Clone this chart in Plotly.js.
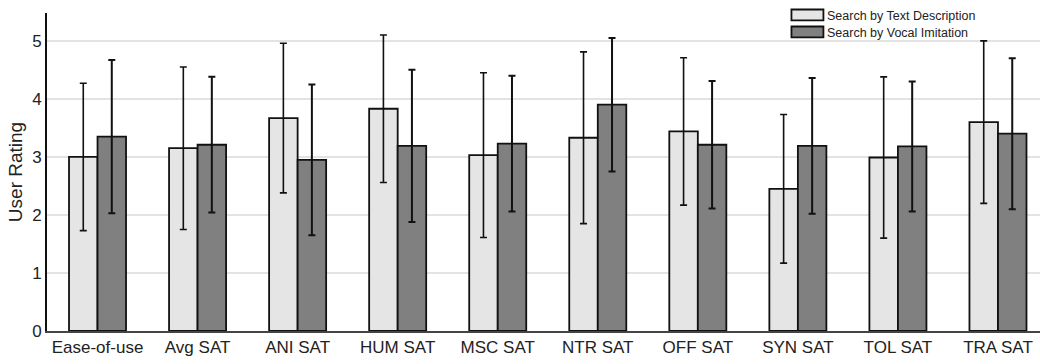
<!DOCTYPE html>
<html>
<head>
<meta charset="utf-8">
<script src="https://cdn.plot.ly/plotly-3.0.1.min.js"></script>
<style>html,body{margin:0;padding:0;background:#fff}#chart{width:1040px;height:364px}</style>
</head>
<body>
<div id="chart"></div>
<script>
var categories = ["Ease-of-use","Avg SAT","ANI SAT","HUM SAT","MSC SAT","NTR SAT","OFF SAT","SYN SAT","TOL SAT","TRA SAT"];
var textMean = [3.00, 3.15, 3.67, 3.83, 3.03, 3.33, 3.44, 2.45, 2.99, 3.60];
var textErr  = [1.27, 1.40, 1.29, 1.27, 1.42, 1.48, 1.27, 1.28, 1.39, 1.40];
var vocalMean = [3.35, 3.21, 2.95, 3.19, 3.23, 3.90, 3.21, 3.19, 3.18, 3.40];
var vocalErr  = [1.32, 1.17, 1.30, 1.31, 1.17, 1.15, 1.10, 1.17, 1.12, 1.30];
var seriesNames = ["Search by Text Description","Search by Vocal Imitation"];
var seriesColors = ["#e5e5e5","#808080"];

var font = "Liberation Sans, Arial, Helvetica, sans-serif";
var traces = [
  {type:"bar", name:seriesNames[0], x:categories, y:textMean, showlegend:false,
   marker:{color:seriesColors[0], line:{color:"#111", width:1.8}},
   error_y:{type:"data", array:textErr, visible:true, color:"#111", thickness:1.6, width:3.5}},
  {type:"bar", name:seriesNames[1], x:categories, y:vocalMean, showlegend:false,
   marker:{color:seriesColors[1], line:{color:"#111", width:1.8}},
   error_y:{type:"data", array:vocalErr, visible:true, color:"#111", thickness:2, width:3.5}}
];

// legend drawn as wide boxes + labels (paper coordinates)
var legX0 = 0.7497, legX1 = 0.7819, legTx = 0.7835;
var legRows = [{y0:0.9765, y1:1.0110, ty:0.9910},{y0:0.9231, y1:0.9576, ty:0.9380}];
var shapes = [], annotations = [];
for (var i = 0; i < seriesNames.length; i++) {
  shapes.push({type:"rect", xref:"paper", yref:"paper", x0:legX0, x1:legX1, y0:legRows[i].y0, y1:legRows[i].y1,
               fillcolor:seriesColors[i], line:{color:"#111", width:1.8}});
  annotations.push({xref:"paper", yref:"paper", x:legTx, y:legRows[i].ty, xanchor:"left", yanchor:"middle",
                    text:seriesNames[i], showarrow:false, font:{family:font, size:12.5, color:"#222"}});
}

var layout = {
  width:1040, height:364,
  margin:{l:47, r:0, t:13, b:32.5},
  paper_bgcolor:"#fff", plot_bgcolor:"#fff",
  barmode:"group", bargap:0.43, bargroupgap:0,
  font:{family:font, size:17, color:"#222"},
  showlegend:false,
  shapes:shapes, annotations:annotations,
  xaxis:{type:"category", range:[-0.505, 9.42], showgrid:false, zeroline:false,
         showline:true, linecolor:"#444", linewidth:2, ticks:"", tickfont:{size:17, color:"#222"}},
  yaxis:{range:[0,5.48], tickvals:[0,1,2,3,4,5], showgrid:true, gridcolor:"#e3e3e3", gridwidth:1.5,
         zeroline:false, showline:true, linecolor:"#111", linewidth:2, ticks:"",
         tickfont:{size:17, color:"#222"},
         title:{text:"User Rating", font:{size:19, color:"#222"}, standoff:4}}
};
Plotly.newPlot("chart", traces, layout, {displayModeBar:false, staticPlot:true});
</script>
</body>
</html>
